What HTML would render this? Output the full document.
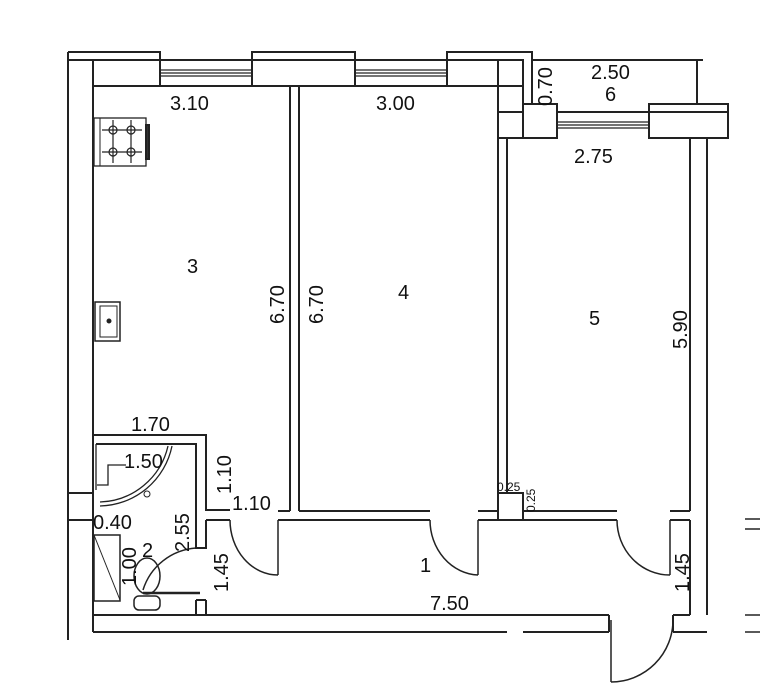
<!DOCTYPE html>
<html><head><meta charset="utf-8"><style>
html,body{margin:0;padding:0;background:#fff}
svg{display:block}
text{font-family:"Liberation Sans",sans-serif;fill:#111}
</style></head><body>
<svg width="760" height="700" viewBox="0 0 760 700" xmlns="http://www.w3.org/2000/svg">
<g stroke="#222" stroke-width="2" fill="none">
<polyline points="68,52 160,52 160,60"/>
<line x1="68" y1="60" x2="498" y2="60"/>
<line x1="93" y1="86" x2="498" y2="86"/>
<line x1="160" y1="60" x2="160" y2="86"/>
<line x1="252" y1="60" x2="252" y2="86"/>
<polyline points="252,60 252,52 355,52 355,86"/>
<polyline points="447,86 447,52 532,52 532,104"/>
<g stroke-width="1.3"><line x1="160" y1="70" x2="252" y2="70"/><line x1="160" y1="73" x2="252" y2="73"/><line x1="160" y1="76" x2="252" y2="76"/>
<line x1="355" y1="70" x2="447" y2="70"/><line x1="355" y1="73" x2="447" y2="73"/><line x1="355" y1="76" x2="447" y2="76"/>
<line x1="557" y1="122" x2="649" y2="122"/><line x1="557" y1="125" x2="649" y2="125"/><line x1="557" y1="128" x2="649" y2="128"/></g>
<rect x="498" y="60" width="25" height="26"/><rect x="498" y="86" width="25" height="26"/><rect x="498" y="112" width="25" height="26"/>
<rect x="523" y="104" width="34" height="34"/>
<line x1="557" y1="112" x2="649" y2="112"/>
<rect x="649" y="104" width="79" height="34"/><line x1="649" y1="112" x2="728" y2="112"/>
<line x1="532" y1="60" x2="703" y2="60"/><line x1="697" y1="60" x2="697" y2="104"/>
<line x1="68" y1="52" x2="68" y2="640"/>
<line x1="93" y1="60" x2="93" y2="632"/>
<line x1="68" y1="493" x2="93" y2="493"/><line x1="68" y1="520" x2="93" y2="520"/>
<line x1="290" y1="86" x2="290" y2="511"/><line x1="299" y1="86" x2="299" y2="511"/>
<line x1="498" y1="138" x2="498" y2="493"/><line x1="507" y1="138" x2="507" y2="493"/>
<line x1="690" y1="138" x2="690" y2="511"/><line x1="707" y1="138" x2="707" y2="615"/>
<rect x="498" y="493" width="25" height="27"/>
<line x1="278" y1="511" x2="290" y2="511"/><line x1="278" y1="520" x2="430" y2="520"/>
<polyline points="299,511 430,511"/>
<polyline points="478,511 498,511"/><line x1="478" y1="520" x2="498" y2="520"/>
<line x1="523" y1="511" x2="617" y2="511"/><line x1="523" y1="520" x2="617" y2="520"/>
<line x1="670" y1="511" x2="690" y2="511"/><line x1="670" y1="520" x2="690" y2="520"/>
<line x1="690" y1="520" x2="690" y2="615"/>
<path d="M478,520 L478,575 M430,520 A50,55 0 0 0 478,575" stroke-width="1.5"/>
<path d="M278,520 L278,575 M230,520 A48,55 0 0 0 278,575" stroke-width="1.5"/>
<path d="M670,520 L670,575 M617,520 A53,55 0 0 0 670,575" stroke-width="1.5"/>
<path d="M611,620 L611,682 M673,620 A62,62 0 0 1 611,682" stroke-width="1.5"/>
<line x1="93" y1="615" x2="609" y2="615"/><line x1="93" y1="632" x2="507" y2="632"/><line x1="523" y1="632" x2="609" y2="632"/>
<line x1="609" y1="615" x2="609" y2="632"/>
<line x1="673" y1="615" x2="673" y2="632"/><line x1="673" y1="615" x2="690" y2="615"/><line x1="673" y1="632" x2="707" y2="632"/>
<polyline points="93,435 206,435 206,510 230,510"/>
<line x1="206" y1="520" x2="230" y2="520"/>
<polyline points="96,444 196,444 196,548 206,548 206,520"/>
<line x1="206" y1="600" x2="206" y2="615"/><line x1="196" y1="600" x2="206" y2="600"/><line x1="196" y1="600" x2="196" y2="615"/>
<path d="M196,548 A60,60 0 0 0 143,590" stroke-width="1.5"/>
<line x1="143" y1="593" x2="200" y2="593" stroke-width="2.5"/>
<rect x="94" y="535" width="26" height="66" stroke-width="1.5"/>
<line x1="94" y1="535" x2="120" y2="600" stroke-width="1"/>
<ellipse cx="147" cy="576" rx="13" ry="18" stroke-width="1.5"/>
<rect x="134" y="596" width="26" height="14" rx="5" stroke-width="1.5"/>
<path d="M96,444 L96,490 M172,446 A75,75 0 0 1 100,506 M168,446 A72,72 0 0 1 100,502" stroke-width="1.3"/>
<polyline points="97,485 108,485 108,465 126,465" stroke-width="1.3"/>
<circle cx="147" cy="494" r="3" stroke-width="1"/>
<rect x="94" y="118" width="52" height="48" stroke-width="1.3"/>
<line x1="100" y1="118" x2="100" y2="166" stroke-width="1"/>
<rect x="146" y="125" width="3" height="34" fill="#333"/>
<g stroke-width="1.2"><circle cx="113" cy="130" r="4"/><circle cx="131" cy="130" r="4"/><circle cx="113" cy="152" r="4"/><circle cx="131" cy="152" r="4"/>
<line x1="102" y1="130" x2="142" y2="130"/><line x1="102" y1="152" x2="142" y2="152"/><line x1="113" y1="120" x2="113" y2="163"/><line x1="131" y1="120" x2="131" y2="163"/></g>
<rect x="95" y="302" width="25" height="39" stroke-width="1.5"/><rect x="100" y="306" width="17" height="31" stroke-width="1"/>
<circle cx="109" cy="321" r="1.5" fill="#222"/>
<g stroke-width="1.5"><line x1="745" y1="519" x2="760" y2="519"/><line x1="745" y1="529" x2="760" y2="529"/><line x1="745" y1="615" x2="760" y2="615"/><line x1="745" y1="632" x2="760" y2="632"/></g>
</g>
<g font-size="20">
<text x="170" y="110">3.10</text>
<text x="376" y="110">3.00</text>
<text x="591" y="79">2.50</text>
<text x="605" y="101">6</text>
<text x="574" y="163">2.75</text>
<text x="187" y="273">3</text>
<text x="398" y="299">4</text>
<text x="589" y="325">5</text>
<text x="131" y="431">1.70</text>
<text x="124" y="468">1.50</text>
<text x="232" y="510">1.10</text>
<text x="93" y="529">0.40</text>
<text x="142" y="557">2</text>
<text x="420" y="572">1</text>
<text x="430" y="610">7.50</text>
<text transform="translate(552,106) rotate(-90)">0.70</text>
<text transform="translate(284,324) rotate(-90)">6.70</text>
<text transform="translate(323,324) rotate(-90)">6.70</text>
<text transform="translate(687,349) rotate(-90)">5.90</text>
<text transform="translate(231,494) rotate(-90)">1.10</text>
<text transform="translate(189,552) rotate(-90)">2.55</text>
<text transform="translate(136,586) rotate(-90)">1.00</text>
<text transform="translate(228,592) rotate(-90)">1.45</text>
<text transform="translate(689,592) rotate(-90)">1.45</text>
</g>
<text x="497" y="491" font-size="12">0.25</text>
<text transform="translate(535,512) rotate(-90)" font-size="12">0.25</text>
</svg>
</body></html>
